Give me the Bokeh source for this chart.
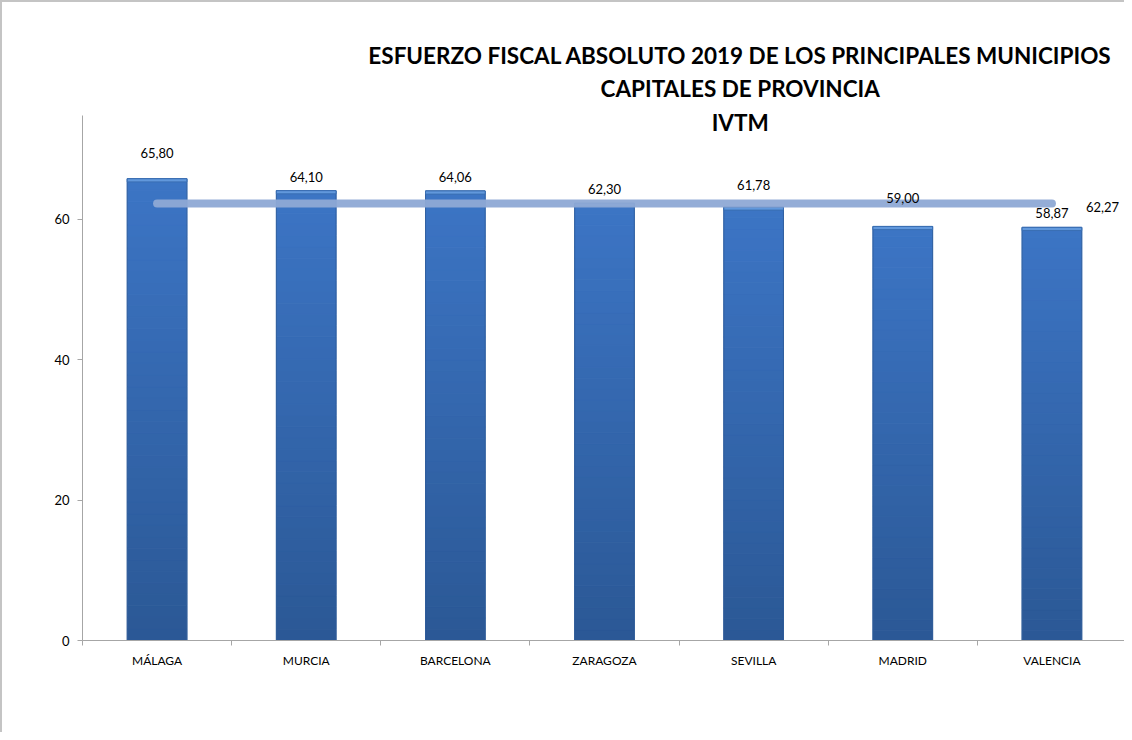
from bokeh.plotting import figure
from bokeh.models import Range1d, LinearAxis, FixedTicker, ColumnDataSource
from bokeh.core.properties import value
from bokeh.embed import file_html
from bokeh.resources import INLINE

# ---- data ----
cities = ["MÁLAGA", "MURCIA", "BARCELONA", "ZARAGOZA", "SEVILLA", "MADRID", "VALENCIA"]
values = [65.80, 64.10, 64.06, 62.30, 61.78, 59.00, 58.87]
average = 62.27
y_ticks = [0, 20, 40, 60]
title_lines = ["ESFUERZO FISCAL ABSOLUTO 2019 DE LOS PRINCIPALES MUNICIPIOS",
               "CAPITALES DE PROVINCIA", "IVTM"]

# ---- style ----
FONT = "Lato"
label_lift = [26, 14, 14, 14, 22, 28, 14]  # px above bar top (as in original)
TOP_RGB = (0x3c, 0x75, 0xc5)
BOT_RGB = (0x2b, 0x58, 0x95)
BANDS = 40

n = len(cities)
centers = [i + 0.5 for i in range(n)]

p = figure(width=1124, height=732, output_backend="svg", toolbar_location=None,
           x_range=Range1d(0, n), y_range=Range1d(0, 85.5),
           x_axis_type=None, y_axis_type=None,
           min_border_left=80, min_border_right=0, min_border_top=38, min_border_bottom=94)
p.outline_line_color = None
p.grid.visible = False
p.background_fill_color = "white"
p.border_fill_color = "white"
p.styles = {"border-top": "2px solid #c4c4c4", "border-left": "2px solid #c4c4c4"}

# y axis
ya = LinearAxis(ticker=FixedTicker(ticks=y_ticks), bounds=(0, 74.8))
ya.axis_line_color = "#a6a6a6"
ya.major_tick_line_color = "#a6a6a6"
ya.major_tick_out = 5
ya.major_tick_in = 0
ya.minor_tick_line_color = None
ya.major_label_text_font = FONT
ya.major_label_text_font_size = "13px"
ya.major_label_text_color = "#000000"
ya.major_label_standoff = 8
p.add_layout(ya, "left")

# x axis: labels at centres, ticks at category boundaries
xa = LinearAxis(ticker=FixedTicker(ticks=centers, minor_ticks=list(range(n + 1))))
xa.major_label_overrides = {c: name for c, name in zip(centers, cities)}
xa.axis_line_color = "#a6a6a6"
xa.major_tick_line_color = None
xa.minor_tick_line_color = "#a6a6a6"
xa.minor_tick_out = 5
xa.minor_tick_in = 0
xa.major_label_text_font = FONT
xa.major_label_text_font_size = "12px"
xa.major_label_text_color = "#000000"
xa.major_label_standoff = 6
p.add_layout(xa, "below")

# gradient bars built as horizontal bands of each bar
bx, bb, bt, bc = [], [], [], []
for c, v in zip(centers, values):
    for k in range(BANDS):
        f = (k + 0.5) / BANDS
        rgb = tuple(int(round(BOT_RGB[j] + (TOP_RGB[j] - BOT_RGB[j]) * f)) for j in range(3))
        bx.append(c)
        bb.append(v * k / BANDS)
        bt.append(v * (k + 1) / BANDS)
        bc.append("#%02x%02x%02x" % rgb)
p.vbar(x=bx, bottom=bb, top=bt, width=0.4, fill_color=bc, line_color=bc, line_width=1)

src = ColumnDataSource(dict(
    x=centers, top=values,
    cap=[v - 0.45 for v in values],
    lbl=[f"{v:.2f}".replace(".", ",") for v in values],
    lift=[-l for l in label_lift],
))
# bar edge + bevel highlight
p.vbar(x="x", top="top", bottom=0, width=0.4, source=src,
       fill_color=None, line_color="#2f5d98", line_width=1, line_alpha=0.8)
p.vbar(x="x", top="top", bottom="cap", width=0.4, source=src,
       fill_color="#6198dc", line_color="#3a6fb3", line_width=1)

# average line
p.line(x=[centers[0], centers[-1]], y=[average, average], line_color="#8ea9d5",
       line_width=8, line_cap="round", line_alpha=0.95)
p.text(x=[centers[-1]], y=[average], text=[f"{average:.2f}".replace(".", ",")],
       x_offset=34, y_offset=3, text_font=value(FONT), text_font_size="13px",
       text_align="left", text_baseline="middle", text_color="#000000")

# value labels
p.text(x="x", y="top", text="lbl", y_offset="lift", source=src,
       text_font=value(FONT), text_font_size="13px", text_align="center",
       text_baseline="middle", text_color="#000000")

# title
for t, yy in zip(title_lines, [83.4, 78.7, 73.8]):
    p.text(x=[4.41], y=[yy], text=[t], text_font=value(FONT), text_font_size="22.5px",
           text_font_style="bold", text_align="center", text_baseline="middle",
           text_color="#000000")

open("out.html", "w").write(file_html(p, INLINE))
